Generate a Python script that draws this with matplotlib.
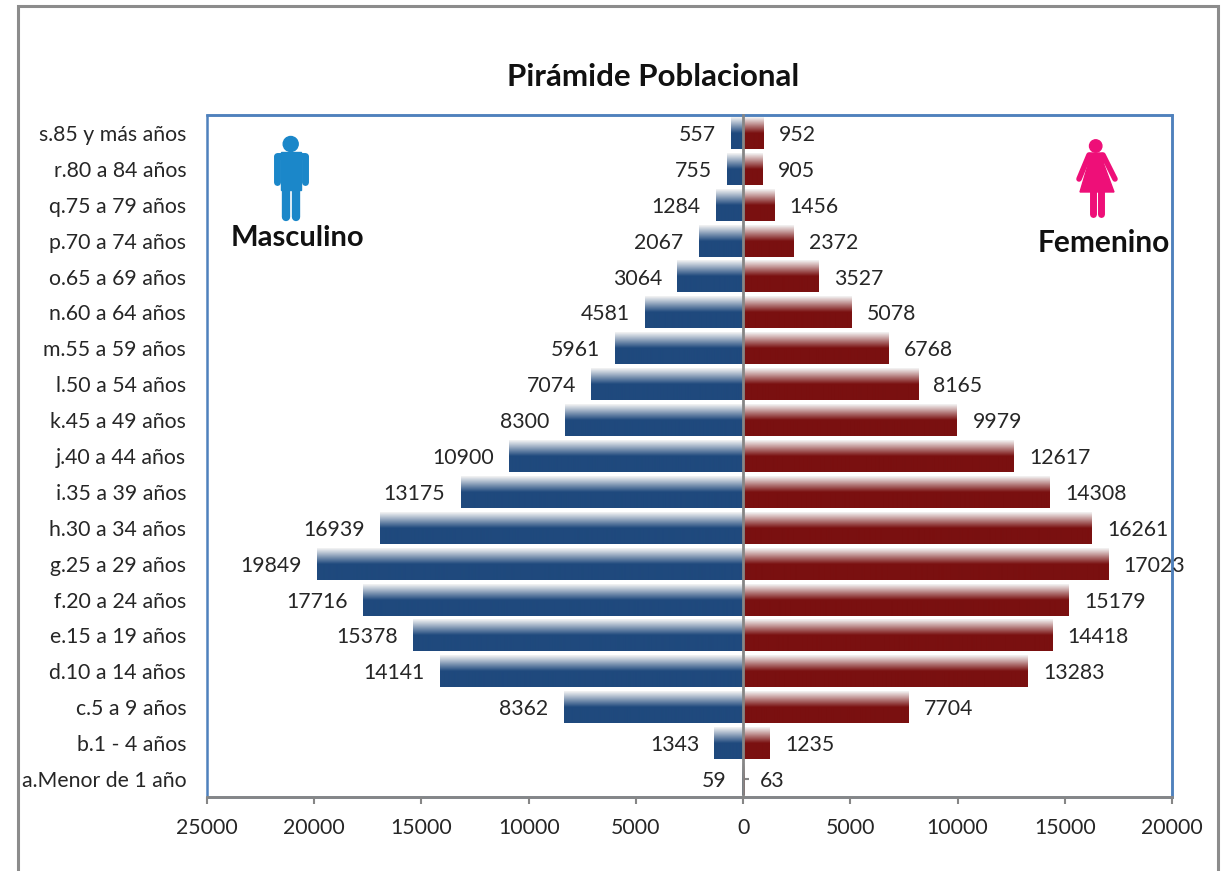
import numpy as np
import matplotlib
matplotlib.use('Agg')
import matplotlib.pyplot as plt
from matplotlib.colors import LinearSegmentedColormap
from matplotlib.patches import Circle, Polygon, Rectangle

plt.rcParams['font.family'] = ['Lato', 'DejaVu Sans']

# DATA
grupos = ['a.Menor de 1 año', 'b.1 - 4 años', 'c.5 a 9 años', 'd.10 a 14 años', 'e.15 a 19 años',
          'f.20 a 24 años', 'g.25 a 29 años', 'h.30 a 34 años', 'i.35 a 39 años', 'j.40 a 44 años',
          'k.45 a 49 años', 'l.50 a 54 años', 'm.55 a 59 años', 'n.60 a 64 años', 'o.65 a 69 años',
          'p.70 a 74 años', 'q.75 a 79 años', 'r.80 a 84 años', 's.85 y más años']
masculino = [59, 1343, 8362, 14141, 15378, 17716, 19849, 16939, 13175, 10900,
             8300, 7074, 5961, 4581, 3064, 2067, 1284, 755, 557]
femenino = [63, 1235, 7704, 13283, 14418, 15179, 17023, 16261, 14308, 12617,
            9979, 8165, 6768, 5078, 3527, 2372, 1456, 905, 952]
xticks = [-25000, -20000, -15000, -10000, -5000, 0, 5000, 10000, 15000, 20000]

W, H = 1230, 871
AZUL = '#1f497d'
ROJO = '#7a1010'
BORDE = '#4f81bd'
GRIS = '#868686'
TEXTO = '#262626'
FS = 15.3


def gradient_bars(ax, bars, color):
	# white at the top of each bar, full colour from the middle down
	cmap = LinearSegmentedColormap.from_list('g', ['#f4f4f4', color, color])
	grad = np.linspace(0, 1, 64).reshape(-1, 1)
	for b in bars:
		b.set_facecolor('none')
		b.set_edgecolor('none')
		x0, x1 = sorted([b.get_x(), b.get_x() + b.get_width()])
		y0, y1 = b.get_y(), b.get_y() + b.get_height()
		ax.imshow(grad, cmap=cmap, aspect='auto', extent=(x0, x1, y0, y1), origin='upper',
				interpolation='bilinear', zorder=2)


fig = plt.figure(figsize=(W / 100, H / 100), dpi=100, facecolor='white')
ax = fig.add_axes([207 / W, 1 - 797 / H, (1172 - 207) / W, (797 - 115) / H])

y = np.arange(len(grupos))
bars_m = ax.barh(y, -np.array(masculino), height=0.89)
bars_f = ax.barh(y, femenino, height=0.89)
gradient_bars(ax, bars_m, AZUL)
gradient_bars(ax, bars_f, ROJO)

etiq_m = ax.bar_label(bars_m, labels=[str(v) for v in masculino], padding=11, fontsize=FS, color=TEXTO, clip_on=False)
etiq_f = ax.bar_label(bars_f, labels=[str(v) for v in femenino], padding=11, fontsize=FS, color=TEXTO, clip_on=False)
for t in etiq_m + etiq_f:
	t.set_verticalalignment('center_baseline')

ax.set_xlim(-25000, 20000)
ax.set_ylim(-0.5, len(grupos) - 0.5)

ax.set_xticks(xticks)
ax.set_xticklabels([str(abs(v)) for v in xticks])
ax.set_yticks(y)
ax.set_yticklabels(grupos)
ax.tick_params(axis='x', length=5, width=1.5, color=GRIS, labelsize=FS, labelcolor=TEXTO, pad=10)
ax.tick_params(axis='y', direction='in', length=4, width=1.5, color=GRIS, labelsize=FS, labelcolor=TEXTO, pad=401)

# vertical axis sits on zero, blue frame round the plot area
ax.spines['left'].set_position(('data', 0))
ax.spines['left'].set_color(GRIS)
ax.spines['left'].set_linewidth(2)
ax.spines['left'].set_zorder(4)
ax.spines['bottom'].set_color(GRIS)
ax.spines['bottom'].set_linewidth(2)
for s in ['top', 'right']:
	ax.spines[s].set_color(BORDE)
	ax.spines[s].set_linewidth(1.8)
ax.add_patch(Rectangle((0, 0), 1, 1, transform=ax.transAxes, fill=False, ec=BORDE, lw=1.8, clip_on=False, zorder=1))

# overlay in pixel coordinates for frame, title and icons
ov = fig.add_axes([0, 0, 1, 1], facecolor='none')
ov.set_xlim(0, W)
ov.set_ylim(H, 0)
ov.axis('off')

ov.plot([18, 18, 1218, 1218], [H, 6.5, 6.5, H], color='#8c8c8c', lw=2.2, solid_joinstyle='miter')
ov.text(653, 77, 'Pirámide Poblacional', ha='center', va='center', fontsize=22.5, fontweight='bold', color='#111111')
ov.text(231, 238, 'Masculino', ha='left', va='center', fontsize=21, fontweight='bold', color='#111111')
ov.text(1038, 243, 'Femenino', ha='left', va='center', fontsize=21.5, fontweight='bold', color='#111111')

# man icon
c_m = '#1b87c9'
ov.add_patch(Circle((290.7, 144), 7.5, color=c_m))
ov.plot([277, 304.5], [156, 156], color=c_m, lw=5, solid_capstyle='round')
ov.add_patch(Rectangle((281, 152), 20, 38, color=c_m))
for xa in (276.5, 304.5):
	ov.plot([xa, xa], [157, 182], color=c_m, lw=5, solid_capstyle='round')
for xa in (285.5, 296):
	ov.plot([xa, xa], [185, 217], color=c_m, lw=6, solid_capstyle='round')

# woman icon
c_f = '#ee0f78'
ov.add_patch(Circle((1095.7, 146), 6.2, color=c_f))
ov.add_patch(Polygon([(1090, 153), (1102, 153), (1104, 165), (1114, 192), (1080, 192), (1088, 165)], color=c_f))
ov.plot([1089, 1079], [155, 179], color=c_f, lw=4, solid_capstyle='round')
ov.plot([1103, 1115], [155, 179], color=c_f, lw=4, solid_capstyle='round')
for xa in (1092.5, 1100.5):
	ov.plot([xa, xa], [190, 214], color=c_f, lw=5, solid_capstyle='round')

fig.savefig('out.png', dpi=100)
